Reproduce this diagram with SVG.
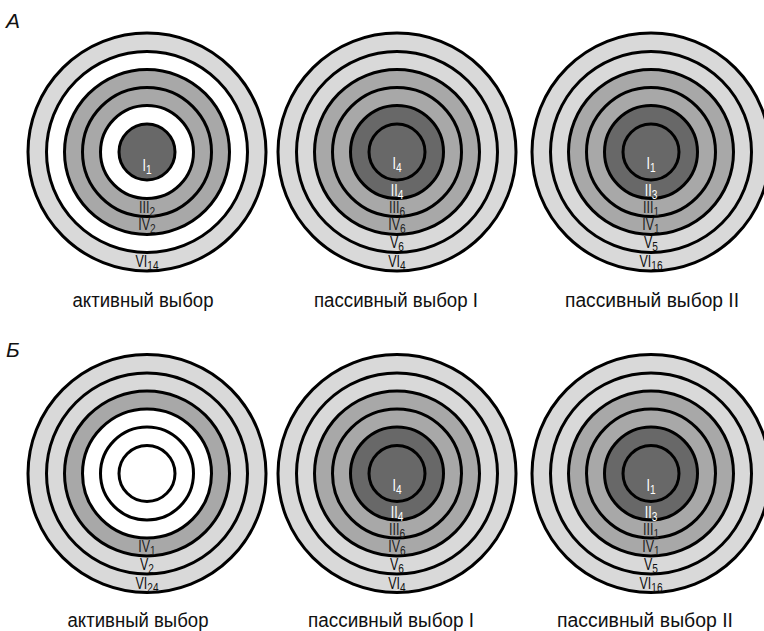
<svg xmlns="http://www.w3.org/2000/svg" width="764" height="631" viewBox="0 0 764 631">
<style>
  .c { stroke: #000; stroke-width: 3; }
  .l { fill: #d9d9d9; }
  .m { fill: #a8a8a8; }
  .d { fill: #686868; }
  .w { fill: #ffffff; }
  .n { font-family: "Liberation Sans", Arial, sans-serif; font-size: 16px; text-anchor: middle; fill: #111; }
  .n tspan { font-size: 13px; }
  .nw { fill: #ffffff; }
  .nm { fill: #222; }
  .cap { font-family: "Liberation Sans", Arial, sans-serif; font-size: 20px; text-anchor: middle; fill: #111; }
  .sec { font-family: "Liberation Sans", Arial, sans-serif; font-size: 21px; font-style: italic; fill: #111; }
</style>
<rect width="764" height="631" fill="#ffffff"/>

<text class="sec" x="6" y="28">А</text>
<text class="sec" x="6" y="357">Б</text>

<!-- Row A -->
<g id="a-active" transform="translate(147,152)">
  <circle class="c l" r="119"/>
  <circle class="c w" r="100.5"/>
  <circle class="c m" r="82.5"/>
  <circle class="c m" r="64.5"/>
  <circle class="c w" r="46.5"/>
  <circle class="c d" r="28"/>
  <text class="n nw" transform="matrix(0.78 0 0 1 0 19)">I<tspan dy="3">1</tspan></text>
  <text class="n nm" transform="matrix(0.78 0 0 1 0 61)">III<tspan dy="3">2</tspan></text>
  <text class="n nm" transform="matrix(0.78 0 0 1 0 78)">IV<tspan dy="3">2</tspan></text>
  <text class="n" transform="matrix(0.78 0 0 1 0 115)">VI<tspan dy="3">14</tspan></text>
</g>
<g id="a-passive-1" transform="translate(397,152)">
  <circle class="c l" r="119"/>
  <circle class="c l" r="100.5"/>
  <circle class="c m" r="82.5"/>
  <circle class="c m" r="64.5"/>
  <circle class="c d" r="46.5"/>
  <circle class="c d" r="28"/>
  <text class="n nw" transform="matrix(0.78 0 0 1 0 17)">I<tspan dy="3">4</tspan></text>
  <text class="n nw" transform="matrix(0.78 0 0 1 0 44)">II<tspan dy="3">4</tspan></text>
  <text class="n nm" transform="matrix(0.78 0 0 1 0 61)">III<tspan dy="3">6</tspan></text>
  <text class="n nm" transform="matrix(0.78 0 0 1 0 78)">IV<tspan dy="3">6</tspan></text>
  <text class="n" transform="matrix(0.78 0 0 1 0 96)">V<tspan dy="3">6</tspan></text>
  <text class="n" transform="matrix(0.78 0 0 1 0 115)">VI<tspan dy="3">4</tspan></text>
</g>
<g id="a-passive-2" transform="translate(651,152)">
  <circle class="c l" r="119"/>
  <circle class="c l" r="100.5"/>
  <circle class="c m" r="82.5"/>
  <circle class="c m" r="64.5"/>
  <circle class="c d" r="46.5"/>
  <circle class="c d" r="28"/>
  <text class="n nw" transform="matrix(0.78 0 0 1 0 17)">I<tspan dy="3">1</tspan></text>
  <text class="n nw" transform="matrix(0.78 0 0 1 0 44)">II<tspan dy="3">3</tspan></text>
  <text class="n nm" transform="matrix(0.78 0 0 1 0 61)">III<tspan dy="3">1</tspan></text>
  <text class="n nm" transform="matrix(0.78 0 0 1 0 78)">IV<tspan dy="3">1</tspan></text>
  <text class="n" transform="matrix(0.78 0 0 1 0 96)">V<tspan dy="3">5</tspan></text>
  <text class="n" transform="matrix(0.78 0 0 1 0 115)">VI<tspan dy="3">16</tspan></text>
</g>
<text class="cap" x="143" y="307" textLength="141" lengthAdjust="spacingAndGlyphs">активный выбор</text>
<text class="cap" x="396" y="307" textLength="164" lengthAdjust="spacingAndGlyphs">пассивный выбор I</text>
<text class="cap" x="652" y="307" textLength="174" lengthAdjust="spacingAndGlyphs">пассивный выбор II</text>

<!-- Row B -->
<g id="b-active" transform="translate(147,473.5)">
  <circle class="c l" r="119"/>
  <circle class="c l" r="100.5"/>
  <circle class="c m" r="82.5"/>
  <circle class="c w" r="64.5"/>
  <circle class="c w" r="46.5"/>
  <circle class="c w" r="28"/>
  <text class="n nm" transform="matrix(0.78 0 0 1 0 78)">IV<tspan dy="3">1</tspan></text>
  <text class="n" transform="matrix(0.78 0 0 1 0 96)">V<tspan dy="3">2</tspan></text>
  <text class="n" transform="matrix(0.78 0 0 1 0 115)">VI<tspan dy="3">24</tspan></text>
</g>
<g id="b-passive-1" transform="translate(397,473.5)">
  <circle class="c l" r="119"/>
  <circle class="c l" r="100.5"/>
  <circle class="c m" r="82.5"/>
  <circle class="c m" r="64.5"/>
  <circle class="c d" r="46.5"/>
  <circle class="c d" r="28"/>
  <text class="n nw" transform="matrix(0.78 0 0 1 0 17)">I<tspan dy="3">4</tspan></text>
  <text class="n nw" transform="matrix(0.78 0 0 1 0 44)">II<tspan dy="3">4</tspan></text>
  <text class="n nm" transform="matrix(0.78 0 0 1 0 61)">III<tspan dy="3">6</tspan></text>
  <text class="n nm" transform="matrix(0.78 0 0 1 0 78)">IV<tspan dy="3">6</tspan></text>
  <text class="n" transform="matrix(0.78 0 0 1 0 96)">V<tspan dy="3">6</tspan></text>
  <text class="n" transform="matrix(0.78 0 0 1 0 115)">VI<tspan dy="3">4</tspan></text>
</g>
<g id="b-passive-2" transform="translate(651,473.5)">
  <circle class="c l" r="119"/>
  <circle class="c l" r="100.5"/>
  <circle class="c m" r="82.5"/>
  <circle class="c m" r="64.5"/>
  <circle class="c d" r="46.5"/>
  <circle class="c d" r="28"/>
  <text class="n nw" transform="matrix(0.78 0 0 1 0 17)">I<tspan dy="3">1</tspan></text>
  <text class="n nw" transform="matrix(0.78 0 0 1 0 44)">II<tspan dy="3">3</tspan></text>
  <text class="n nm" transform="matrix(0.78 0 0 1 0 61)">III<tspan dy="3">1</tspan></text>
  <text class="n nm" transform="matrix(0.78 0 0 1 0 78)">IV<tspan dy="3">1</tspan></text>
  <text class="n" transform="matrix(0.78 0 0 1 0 96)">V<tspan dy="3">5</tspan></text>
  <text class="n" transform="matrix(0.78 0 0 1 0 115)">VI<tspan dy="3">16</tspan></text>
</g>
<text class="cap" x="138" y="627" textLength="141" lengthAdjust="spacingAndGlyphs">активный выбор</text>
<text class="cap" x="391" y="627" textLength="166" lengthAdjust="spacingAndGlyphs">пассивный выбор I</text>
<text class="cap" x="645" y="627" textLength="176" lengthAdjust="spacingAndGlyphs">пассивный выбор II</text>
</svg>
